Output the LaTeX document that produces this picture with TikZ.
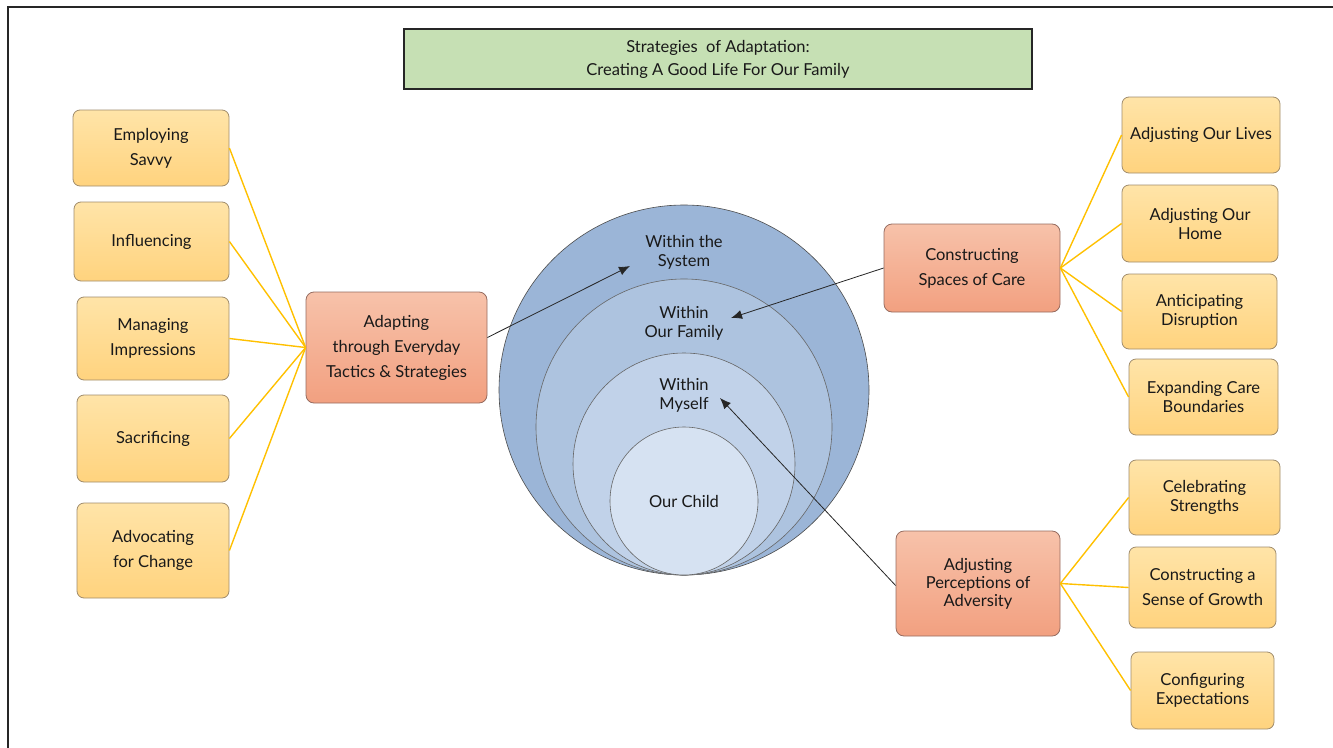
\documentclass[tikz,border=0pt]{standalone}
\usepackage{fontspec}
\setmainfont{Lato}
\usetikzlibrary{arrows.meta}

\definecolor{leafTop}{RGB}{255,228,168}
\definecolor{leafBot}{RGB}{255,211,126}
\definecolor{leafLine}{RGB}{160,140,108}
\definecolor{hubTop}{RGB}{247,194,170}
\definecolor{hubBot}{RGB}{242,160,128}
\definecolor{hubLine}{RGB}{150,108,96}
\definecolor{titleFill}{RGB}{198,224,180}
\definecolor{ringA}{RGB}{155,181,215}
\definecolor{ringB}{RGB}{173,195,223}
\definecolor{ringC}{RGB}{193,210,233}
\definecolor{ringD}{RGB}{214,226,242}
\definecolor{linkYellow}{RGB}{255,192,0}

\begin{document}
\begin{tikzpicture}[x=1pt, y=-1pt,
    font=\fontsize{16.5}{19}\selectfont, text=black!90,
    leaf/.style={draw=leafLine, line width=0.8pt, rounded corners=7pt,
      top color=leafTop, bottom color=leafBot, align=center, inner sep=0pt},
    hub/.style={draw=hubLine, line width=0.8pt, rounded corners=8pt,
      top color=hubTop, bottom color=hubBot, align=center, inner sep=0pt},
    link/.style={draw=linkYellow, line width=1.4pt},
    pointer/.style={draw=black!85, line width=0.8pt, -{Latex[length=11pt,width=9pt]}},
    ring/.style={draw=black!60, line width=0.6pt},
    ringtext/.style={align=center, font=\fontsize{16.5}{19}\selectfont}]
  \useasboundingbox (0,0) rectangle (1333,747);
  \draw[line width=1.4pt, black!85] (8,760) -- (8,7) -- (1345,7);

  \node[draw=black!85, line width=2pt, fill=titleFill, minimum width=628pt, minimum height=60pt,
    align=center, font=\fontsize{16.5}{23}\selectfont] (title) at (718,59)
    {Strategies~ of Adaptation:\\Creating A Good Life For Our Family};

  % rings
  \fill[ringA] (684,390) circle (185);
  \draw[ring, draw=black!70] (684,390) circle (185);
  \filldraw[ring, fill=ringB] (684,427) circle (148);
  \filldraw[ring, fill=ringC] (684,464) circle (111);
  \filldraw[ring, fill=ringD] (684,501) circle (74);
  \node[ringtext] (system) at (684,252) {Within the\\System};
  \node[ringtext] (family) at (684,323) {Within\\Our Family};
  \node[ringtext] (myself) at (684,395) {Within\\Myself};
  \node[ringtext] (child) at (684,501) {Our Child};

  % left branch
  \node[hub, minimum width=181pt, minimum height=111pt, font=\fontsize{16.5}{25}\selectfont] (adapt) at (396.5,347.5)
    {Adapting\\through Everyday\\Tactics \& Strategies};
  \node[leaf, minimum width=156pt, minimum height=76pt, font=\fontsize{16.5}{25}\selectfont] (savvy) at (151,148) {Employing\\Savvy};
  \node[leaf, minimum width=155pt, minimum height=79pt] (influ) at (151.5,241.5) {Influencing};
  \node[leaf, minimum width=152pt, minimum height=83pt, font=\fontsize{16.5}{25}\selectfont] (impress) at (153,338.5) {Managing\\Impressions};
  \node[leaf, minimum width=152pt, minimum height=87pt] (sacrif) at (153,438.5) {Sacrificing};
  \node[leaf, minimum width=152pt, minimum height=95pt, font=\fontsize{16.5}{25}\selectfont] (advoc) at (153,550.5) {Advocating\\for Change};
  \foreach \n in {savvy,influ,impress,sacrif,advoc}
    \draw[link] (adapt.west) -- (\n.east);

  % right branches
  \node[hub, minimum width=176pt, minimum height=88pt, font=\fontsize{16.5}{25}\selectfont] (care) at (972,268)
    {Constructing\\Spaces of Care};
  \node[hub, minimum width=164pt, minimum height=105pt, font=\fontsize{16.5}{18}\selectfont] (percep) at (978,583.5)
    {Adjusting\\Perceptions of\\Adversity};
  \node[leaf, minimum width=158pt, minimum height=76pt] (lives) at (1201,135) {Adjusting Our Lives};
  \node[leaf, minimum width=156pt, minimum height=77pt] (home) at (1200,223.5) {Adjusting Our\\Home};
  \node[leaf, minimum width=155pt, minimum height=75pt] (disrupt) at (1199.5,311.5) {Anticipating\\Disruption};
  \node[leaf, minimum width=149pt, minimum height=76pt] (bound) at (1203.5,397) {Expanding Care\\Boundaries};
  \node[leaf, minimum width=151pt, minimum height=75pt] (strength) at (1204.5,497.5) {Celebrating\\Strengths};
  \node[leaf, minimum width=147pt, minimum height=81pt, font=\fontsize{16.5}{25}\selectfont] (growth) at (1202.5,587.5) {Constructing a\\Sense of Growth};
  \node[leaf, minimum width=143pt, minimum height=77pt] (expect) at (1202.5,690.5) {Configuring\\Expectations};
  \foreach \n in {lives,home,disrupt,bound}
    \draw[link] (care.east) -- (\n.west);
  \foreach \n in {strength,growth,expect}
    \draw[link] (percep.east) -- (\n.west);

  % pointers into the rings
  \coordinate (sysTip) at (630,266);
  \coordinate (famTip) at (731,318);
  \coordinate (selfTip) at (720,398);
  \draw[pointer] ([yshift=10pt]adapt.east) -- (sysTip);
  \draw[pointer] (care.west) -- (famTip);
  \draw[pointer] ([yshift=-2pt]percep.west) -- (selfTip);
\end{tikzpicture}
\end{document}
